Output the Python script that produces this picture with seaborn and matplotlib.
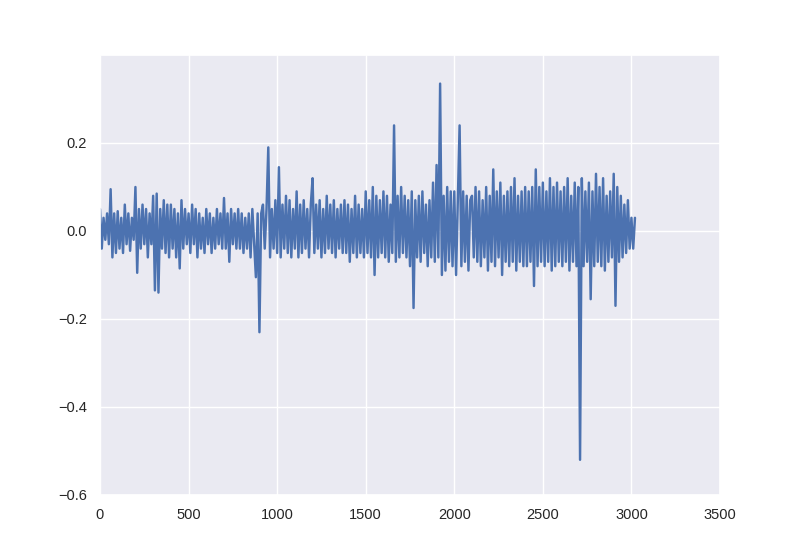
import numpy as np
import pandas as pd
import matplotlib
matplotlib.use("Agg")
import matplotlib.pyplot as plt
import seaborn as sns

values = [
0.05,-0.04,0.03,-0.02,0.04,-0.03,0.095,-0.06,0.04,-0.05,
0.045,-0.04,0.03,-0.05,0.06,-0.03,0.04,-0.045,0.03,-0.02,
0.1,-0.095,0.05,-0.04,0.06,-0.03,0.05,-0.06,0.04,-0.03,
0.08,-0.135,0.085,-0.14,0.05,-0.04,0.07,-0.05,0.06,-0.06,
0.06,-0.04,0.05,-0.06,0.04,-0.085,0.07,-0.04,0.05,-0.03,
0.04,-0.05,0.06,-0.03,0.05,-0.06,0.04,-0.04,0.03,-0.05,
0.05,-0.03,0.04,-0.05,0.03,-0.04,0.05,-0.03,0.04,-0.04,
0.075,-0.04,0.04,-0.07,0.05,-0.03,0.04,-0.04,0.05,-0.04,
0.04,-0.05,0.03,-0.04,0.04,-0.06,0.05,-0.03,-0.105,0.04,
-0.23,0.04,0.06,-0.04,0.05,0.19,-0.06,0.05,-0.04,0.07,
-0.05,0.145,-0.06,0.06,-0.04,0.08,-0.05,0.07,-0.06,0.05,
-0.04,0.09,-0.06,0.06,-0.05,0.07,-0.04,0.05,-0.06,0.06,
0.12,-0.05,0.06,-0.04,0.07,-0.06,0.05,-0.05,0.08,-0.04,
0.06,-0.05,0.07,-0.06,0.05,-0.04,0.06,-0.05,0.07,-0.05,
0.06,-0.07,0.05,-0.05,0.08,-0.06,0.06,-0.05,0.05,-0.06,
0.09,-0.05,0.07,-0.06,0.1,-0.1,0.08,-0.06,0.07,-0.05,
0.09,-0.06,0.08,-0.07,0.06,-0.05,0.24,-0.07,0.08,-0.06,
0.1,-0.05,0.08,-0.06,0.07,-0.08,0.09,-0.175,0.07,-0.06,
0.08,-0.07,0.09,-0.05,0.06,-0.08,0.07,-0.06,0.11,-0.07,
0.15,-0.06,0.335,-0.1,0.08,-0.09,0.1,-0.07,0.09,-0.08,
0.09,-0.1,0.07,0.24,-0.08,0.09,-0.07,0.08,-0.09,0.07,
0.08,-0.06,0.1,-0.07,0.09,-0.08,0.07,-0.06,0.1,-0.09,
0.08,-0.07,0.14,-0.08,0.09,-0.06,0.11,-0.1,0.08,-0.07,
0.09,-0.08,0.1,-0.07,0.12,-0.09,0.08,-0.07,0.09,-0.08,
0.1,-0.08,0.09,-0.07,0.1,-0.125,0.14,-0.08,0.1,-0.07,
0.11,-0.08,0.09,-0.07,0.12,-0.09,0.1,-0.08,0.11,-0.07,
0.09,-0.08,0.1,-0.07,0.12,-0.09,0.08,-0.07,0.11,-0.08,
0.1,-0.52,0.12,-0.08,0.09,-0.07,0.11,-0.155,0.09,-0.08,
0.13,-0.07,0.1,-0.08,0.12,-0.09,0.08,-0.07,0.09,-0.06,
0.13,-0.17,0.1,-0.07,0.08,-0.06,0.06,-0.05,0.07,-0.04,
0.03,-0.04,0.03,
]
index = list(range(0, 10 * len(values), 10))
df = pd.DataFrame({"x": index, "y": values})

sns.set_theme(style="darkgrid")
plt.rcParams['font.family'] = ['Liberation Sans', 'DejaVu Sans']
fig = plt.figure(figsize=(8, 5.5), dpi=100)
ax = fig.add_axes([0.125, 0.1, 0.775, 0.8])
sns.lineplot(data=df, x="x", y="y", ax=ax, color="#4c72b0", linewidth=1.75)
ax.set_xlim(0, 3500)
ax.set_ylim(-0.6, 0.4)
ax.set_xticks([0, 500, 1000, 1500, 2000, 2500, 3000, 3500])
ax.set_yticks([-0.6, -0.4, -0.2, 0.0, 0.2])
ax.set_xlabel("")
ax.set_ylabel("")
ax.tick_params(labelsize=10.5)
fig.savefig("out.png", dpi=100)
